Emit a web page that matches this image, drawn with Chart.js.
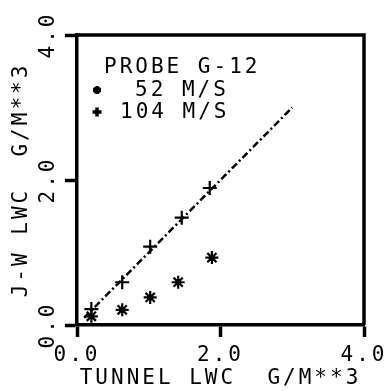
<!DOCTYPE html>
<html>
<head>
<meta charset="utf-8">
<script src="https://cdn.jsdelivr.net/npm/chart.js@4.4.1/dist/chart.umd.min.js"></script>
<style>
  body { margin: 0; background: #fff; }
  #wrap { width: 391px; height: 391px; }
</style>
</head>
<body>
<div id="wrap"><canvas id="myChart" width="391" height="391"></canvas></div>
<script>

// tunnel LWC vs J-W LWC, probe G-12
var speed52X = [0.20, 0.63, 1.02, 1.41, 1.88];
var speed52Y = [0.12, 0.21, 0.38, 0.59, 0.93];
var speed104X = [0.20, 0.63, 1.02, 1.46, 1.85];
var speed104Y = [0.22, 0.59, 1.08, 1.48, 1.89];
var lineX = [0.1, 3.0];
var lineY = [0.1, 3.0];
var xTickLabels = ['0.0', '2.0', '4.0'];
var yTickLabels = ['0.0', '2.0', '4.0'];
var legendTitle = 'PROBE G-12';
var legendLabels = ['52 M/S', '104 M/S'];

var FONT = 'DejaVu Sans Mono';

function toPoints(xs, ys) {

  var pts = [];

  for (var i = 0; i < xs.length; i++) {
    pts.push({ x: xs[i], y: ys[i] });
  }

  return pts;
}

// frame on top/right plus the legend block
var framePlugin = {
  id: 'frame',
  beforeDraw: function(chart) {
    chart.ctx.letterSpacing = '3px';
  },
  afterDraw: function(chart) {

    var ctx = chart.ctx;
    var a = chart.chartArea;

    ctx.save();
    ctx.strokeStyle = '#000';
    ctx.lineWidth = 3.5;
    ctx.beginPath();
    ctx.moveTo(a.left, a.top);
    ctx.lineTo(a.right, a.top);
    ctx.lineTo(a.right, a.bottom);
    ctx.stroke();

    ctx.fillStyle = '#000';
    ctx.font = '21px "' + FONT + '"';
    ctx.textBaseline = 'alphabetic';
    ctx.textAlign = 'left';
    ctx.fillText(legendTitle, 104, 73);
    ctx.fillText(legendLabels[0], 135, 96);
    ctx.fillText(legendLabels[1], 120, 118);

    ctx.strokeStyle = '#000';
    Chart.helpers.drawPoint(ctx, { pointStyle: 'star', radius: 4, borderWidth: 2.5 }, 97, 90);
    Chart.helpers.drawPoint(ctx, { pointStyle: 'cross', radius: 4.5, borderWidth: 2.5 }, 97, 112);
    ctx.restore();
  }
};

function stampChart() {

  var ctx = document.getElementById('myChart').getContext('2d');

  Chart.defaults.font.family = FONT;
  Chart.defaults.color = '#000';

  var chart = new Chart(ctx, {
    type: 'scatter',
    data: {
      datasets: [{
        label: '1:1',
        data: toPoints(lineX, lineY),
        showLine: true,
        borderColor: '#000',
        borderWidth: 2.5,
        borderDash: [7, 3, 2, 3],
        pointRadius: 0,
        order: 2
      }, {
        label: '52 M/S',
        data: toPoints(speed52X, speed52Y),
        pointStyle: 'star',
        pointRadius: 6.5,
        borderColor: '#000',
        backgroundColor: '#000',
        pointBorderWidth: 2.2,
        order: 1
      }, {
        label: '104 M/S',
        data: toPoints(speed104X, speed104Y),
        pointStyle: 'cross',
        pointRadius: 7,
        borderColor: '#000',
        backgroundColor: '#000',
        pointBorderWidth: 2.2,
        order: 1
      }]
    },
    options: {
      responsive: false,
      animation: false,
      layout: { padding: { top: 35, right: 27, left: 0, bottom: 0 } },
      plugins: {
        legend: { display: false },
        tooltip: { enabled: false }
      },
      scales: {
        x: {
          type: 'linear',
          min: 0,
          max: 4,
          afterBuildTicks: function(scale) {
            scale.ticks = [{ value: 0 }, { value: 2 }, { value: 4 }];
          },
          afterFit: function(scale) {
            scale.height = 66;
          },
          ticks: {
            font: { size: 21 },
            padding: 6,
            maxRotation: 0,
            callback: function(v, i) { return xTickLabels[i]; }
          },
          grid: {
            drawOnChartArea: false,
            tickLength: 12,
            tickWidth: 3.5,
            tickColor: '#000'
          },
          border: { color: '#000', width: 3.5 },
          title: {
            display: true,
            text: 'TUNNEL LWC  G/M**3',
            font: { size: 21 },
            padding: { top: 0, bottom: 0 }
          }
        },
        y: {
          type: 'linear',
          min: 0,
          max: 4,
          afterBuildTicks: function(scale) {
            scale.ticks = [{ value: 0 }, { value: 2 }, { value: 4 }];
          },
          afterFit: function(scale) {
            scale.width = 77;
          },
          ticks: {
            font: { size: 21 },
            padding: -3,
            minRotation: 90,
            maxRotation: 90,
            crossAlign: 'center',
            callback: function(v, i) { return yTickLabels[i]; }
          },
          grid: {
            drawOnChartArea: false,
            tickLength: 12,
            tickWidth: 3.5,
            tickColor: '#000'
          },
          border: { color: '#000', width: 3.5 },
          title: {
            display: true,
            text: 'J-W LWC  G/M**3',
            font: { size: 21 },
            padding: { top: 9, bottom: 0 }
          }
        }
      }
    },
    plugins: [framePlugin]
  });
}

stampChart();
</script>
</body>
</html>
